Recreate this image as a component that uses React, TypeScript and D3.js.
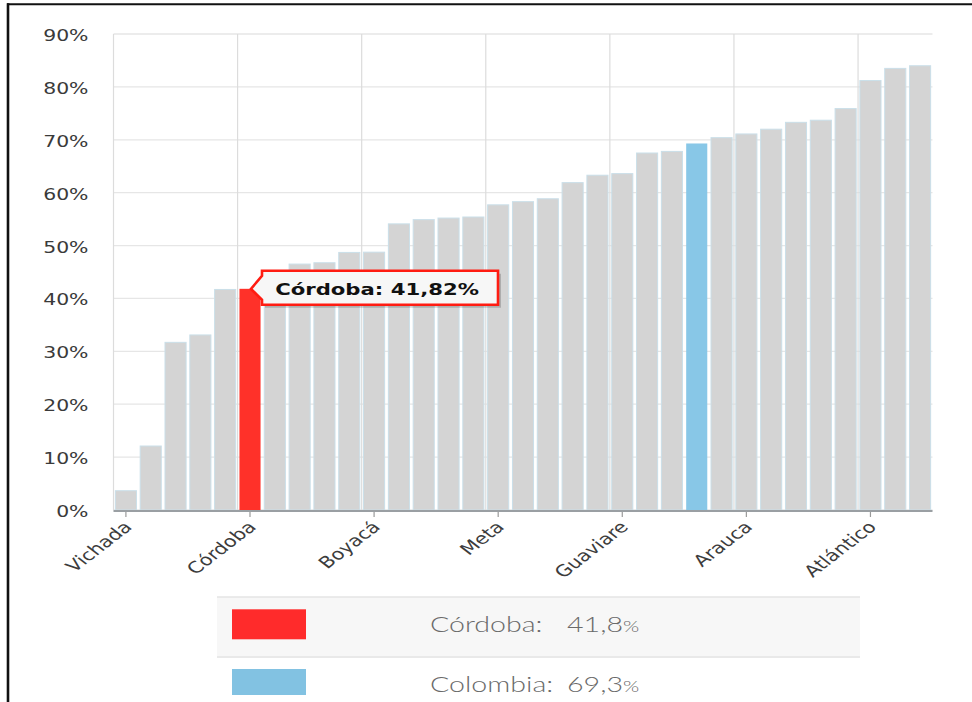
import React from 'react';
import * as d3 from 'd3';

const categories = [
  'Vichada', 'Vaupés', 'Guainía', 'Amazonas', 'La Guajira', 'Córdoba', 'Chocó', 'Sucre',
  'Putumayo', 'Caquetá', 'Boyacá', 'Nariño', 'Cauca', 'Magdalena', 'Cesar', 'Meta',
  'Tolima', 'Huila', 'Bolívar', 'Casanare', 'Guaviare', 'Caldas', 'Norte de Santander',
  'Colombia', 'Quindío', 'Arauca', 'Risaralda', 'Santander', 'Antioquia', 'Valle del Cauca',
  'Atlántico', 'San Andrés', 'Bogotá D.C.'
];
const values = [
  3.65, 12.1, 31.7, 33.1, 41.7, 41.82, 44.2, 46.5, 46.75, 48.7, 48.75, 54.1, 54.9, 55.2, 55.4, 57.7,
  58.3, 58.85, 61.9, 63.3, 63.6, 67.5, 67.8, 69.3, 70.4, 71.1, 72.0, 73.3, 73.7, 75.9,
  81.2, 83.5, 84.0
];
const highlightCategory = 'Córdoba';
const nationalCategory = 'Colombia';
const yTicks = [0, 10, 20, 30, 40, 50, 60, 70, 80, 90];
const labeledCategories = ['Vichada', 'Córdoba', 'Boyacá', 'Meta', 'Guaviare', 'Arauca', 'Atlántico'];
const legendLabels = ['Córdoba', 'Colombia'];
const legendValues = ['41,8', '69,3'];
const legendColors = ['#ff2b2b', '#82c2e2'];

const W = 972;
const H = 702;
const SX = 1.3;
const M = { left: 113.5, right: 932.5, top: 34, bottom: 510 };

export default function App() {
  const x = d3.scaleBand<string>().domain(categories).range([M.left, M.right]).paddingInner(0.15).paddingOuter(0.075);
  const y = d3.scaleLinear().domain([0, 90]).range([M.bottom, M.top]);
  const step = x.step();
  const bw = x.bandwidth();
  const gridIdx = categories.map((_, i) => i).filter((i) => i % 5 === 0);

  const hlIdx = categories.indexOf(highlightCategory);
  const hlVal = values[hlIdx];
  const tipX = (x(highlightCategory) as number) + bw / 2;
  const tipY = y(hlVal);
  const boxL = tipX + 12;
  const boxT = tipY - 18;
  const boxW = 236;
  const boxH = 34;
  const tipPath = `M${boxL},${boxT} H${boxL + boxW} V${boxT + boxH} H${boxL} V${tipY + 11} L${tipX + 1},${tipY} L${boxL},${tipY - 13} Z`;
  const tipText = `${highlightCategory}: ${d3.format('.2f')(hlVal).replace('.', ',')}%`;

  const barColor = (c: string) => (c === highlightCategory ? '#ff2a22' : c === nationalCategory ? '#84c5e6' : '#d3d3d3');

  const legendTop = 597;
  const rowH = 60;

  return (
    <svg width={W} height={H} style={{ position: 'absolute', left: 0, top: 0, display: 'block', background: '#fff' }}>
      {/* frame */}
      <line x1={7} x2={W} y1={4.3} y2={4.3} stroke="#111" strokeWidth={2} />
      <line x1={8} x2={8} y1={3.3} y2={H} stroke="#111" strokeWidth={2.6} />

      {/* horizontal grid */}
      {yTicks.map((t) => (
        <line key={'h' + t} x1={M.left} x2={M.right} y1={y(t)} y2={y(t)} stroke="#e6e6e6" strokeWidth={1.3} />
      ))}
      {/* vertical grid */}
      {gridIdx.map((i) => {
        const gx = (x(categories[i]) as number) - (step * 0.15) / 2;
        return <line key={'v' + i} x1={gx} x2={gx} y1={M.top} y2={M.bottom} stroke="#dcdcdc" strokeWidth={1.2} />;
      })}

      {/* bars */}
      {categories.map((c, i) => (
        <rect
          key={c}
          x={x(c) as number}
          y={y(values[i])}
          width={bw}
          height={M.bottom - y(values[i])}
          fill={barColor(c)}
          stroke={c === highlightCategory || c === nationalCategory ? 'none' : '#cadfe9'}
          strokeWidth={1}
          fillOpacity={0.97}
        />
      ))}

      {/* x axis */}
      <line x1={M.left} x2={M.right} y1={M.bottom + 1} y2={M.bottom + 1} stroke="#9a9fa3" strokeWidth={2} />
      {labeledCategories.map((c) => {
        const cx = (x(c) as number) + bw / 2;
        return (
          <g key={'xl' + c}>
            <line x1={cx} x2={cx} y1={M.bottom + 2} y2={M.bottom + 7} stroke="#9a9a9a" strokeWidth={1.2} />
            <text
              transform={`translate(${cx + 2},${M.bottom + 14}) scale(${SX},1) rotate(-45)`}
              textAnchor="end"
              dy="0.35em"
              fontFamily="'DejaVu Sans', Verdana, sans-serif"
              fontSize={16}
              fill="#3c3c3c"
            >
              {c}
            </text>
          </g>
        );
      })}

      {/* y labels */}
      {yTicks.map((t) => (
        <text
          key={'ylt' + t}
          transform={`translate(88.5,${y(t) + 7}) scale(${SX},1)`}
          textAnchor="end"
          fontFamily="'DejaVu Sans', Verdana, sans-serif"
          fontSize={15.7}
          fill="#3a3a3a"
        >
          {t + '%'}
        </text>
      ))}

      {/* tooltip */}
      <path d={tipPath} transform="translate(3,3)" fill="#000" fillOpacity={0.18} />
      <path d={tipPath} fill="#f7f7f7" stroke="#ff1c12" strokeWidth={2.6} strokeLinejoin="miter" />
      <text
        transform={`translate(${boxL + boxW / 2 - 3},${boxT + 24.5}) scale(${SX},1)`}
        textAnchor="middle"
        fontFamily="'DejaVu Sans', Verdana, sans-serif"
        fontWeight="bold"
        fontSize={16.3}
        fill="#111"
      >
        {tipText}
      </text>

      {/* legend */}
      <rect x={217} y={legendTop} width={643} height={rowH} fill="#f7f7f7" />
      <line x1={217} x2={860} y1={legendTop} y2={legendTop} stroke="#e4e4e4" strokeWidth={1.5} />
      <line x1={217} x2={860} y1={legendTop + rowH} y2={legendTop + rowH} stroke="#e9e9e9" strokeWidth={2} />
      {legendLabels.map((lab, i) => {
        const ry = legendTop + i * rowH;
        return (
          <g key={'lg' + lab}>
            <rect x={232} y={ry + 12.3 - i * 0.3} width={74} height={i === 0 ? 30 : 26} fill={legendColors[i]} />
            <text
              transform={`translate(430,${ry + 35}) scale(${SX},1)`}
              fontFamily="Lato, 'Open Sans', sans-serif"
              fontWeight={300}
              fontSize={22}
              fill="#6a6a6a"
            >
              {lab + ':'}
            </text>
            <text
              transform={`translate(567,${ry + 35}) scale(${SX},1)`}
              fontFamily="Lato, 'Open Sans', sans-serif"
              fontWeight={300}
              fontSize={22}
              fill="#6a6a6a"
            >
              {legendValues[i]}
              <tspan fontSize={16}>%</tspan>
            </text>
          </g>
        );
      })}
    </svg>
  );
}
